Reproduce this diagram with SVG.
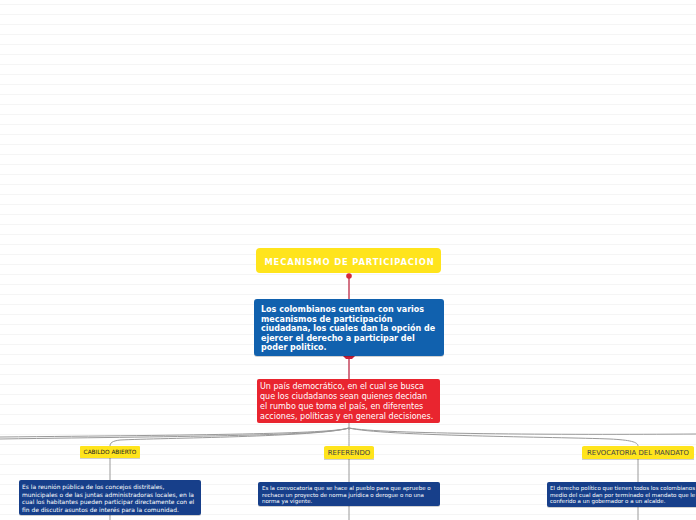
<svg xmlns="http://www.w3.org/2000/svg" width="696" height="520" viewBox="0 0 696 520">
<defs>
<pattern id="bg" x="0" y="0" width="696" height="10" patternUnits="userSpaceOnUse">
<rect x="0" y="4" width="696" height="1" fill="#f5f5f5"/>
</pattern>
</defs>
<style>
.t{font-family:"DejaVu Sans","Liberation Sans",sans-serif}
.title{font-size:8.4px;font-weight:bold;fill:#fff;letter-spacing:0.85px}
.bt{font-size:8px;font-weight:bold;fill:#fff}
.rt{font-size:8px;fill:#fff}
.lab{font-size:6.9px;fill:#444}
.ds{font-size:5.5px;fill:#fff}
.conn{fill:none;stroke:#9a9a9a;stroke-width:1}
.red{fill:none;stroke:#c4445c;stroke-width:1.5}
.yel{fill:#ffe41c}
.nav{fill:#173f8a}
.sh{fill:#000;opacity:0.18}
</style>
<rect width="696" height="520" fill="#fff"/>
<rect width="696" height="520" fill="url(#bg)"/>

<g id="connectors">
<line class="red" x1="349" y1="276" x2="349" y2="299"/>
<circle cx="349" cy="276" r="2.8" fill="#d42a3c"/>
<line class="red" x1="349" y1="358" x2="349" y2="379"/>
<path d="M343 356 L355 356 L352 359 L346 359 Z" fill="#c8203a"/>
<line class="conn" x1="349" y1="423" x2="349" y2="430"/>
<path class="conn" d="M349 428 C330 434 200 435 0 437"/>
<path class="conn" d="M349 428 C320 436 200 436 0 439"/>
<path class="conn" d="M349 428 C320 437 160 438 120 440 C112 441 110 443 110 446"/>
<path class="conn" d="M349 428 C349 436 349 440 349 446"/>
<path class="conn" d="M349 428 C380 434 560 435 696 434"/>
<path class="conn" d="M349 428 C380 436 560 437 610 439 C630 440 638 442 638 446"/>
<line class="conn" x1="110" y1="458" x2="110" y2="480"/>
<line class="conn" x1="110" y1="515" x2="110" y2="520"/>
<line class="conn" x1="349" y1="459" x2="349" y2="482"/>
<line class="conn" x1="349" y1="506" x2="349" y2="520"/>
<line class="conn" x1="638" y1="459" x2="638" y2="482"/>
<line class="conn" x1="638" y1="507" x2="638" y2="520"/>
</g>

<g id="title">
<rect x="256" y="248" width="185" height="25" rx="4" class="yel"/>
<text class="t title" x="349.5" y="265" text-anchor="middle">MECANISMO DE PARTICIPACION</text>
</g>

<g id="colombianos">
<rect x="254" y="300" width="190" height="57" rx="3" class="sh"/>
<rect x="254" y="299" width="190" height="57" rx="3" fill="#1161ae"/>
<text class="t bt" x="261" y="312">Los colombianos cuentan con varios</text>
<text class="t bt" x="261" y="321.5">mecanismos de participación</text>
<text class="t bt" x="261" y="331">ciudadana, los cuales dan la opción de</text>
<text class="t bt" x="261" y="340.5">ejercer el derecho a participar del</text>
<text class="t bt" x="261" y="350">poder politico.</text>
</g>

<g id="pais">
<rect x="257" y="379" width="183" height="44" rx="2" fill="#e9252f"/>
<text class="t rt" x="260" y="389">Un país democrático, en el cual se busca</text>
<text class="t rt" x="260" y="399">que los ciudadanos sean quienes decidan</text>
<text class="t rt" x="260" y="409">el rumbo que toma el país, en diferentes</text>
<text class="t rt" x="260" y="419">acciones, políticas y en general decisiones.</text>
</g>

<g id="cabildo">
<rect x="80" y="447" width="60" height="12" class="sh"/>
<rect x="80" y="446" width="60" height="12" rx="1" class="yel"/>
<text class="t lab" x="110" y="454.3" text-anchor="middle" style="font-size:5.8px;fill:#222">CABILDO ABIERTO</text>
</g>

<g id="cabildo-desc">
<rect x="19" y="481" width="182" height="35" rx="2" class="sh"/>
<rect x="19" y="480" width="182" height="35" rx="2" class="nav"/>
<text class="t ds" x="22" y="489" style="font-size:5.95px">Es la reunión pública de los concejos distritales,</text>
<text class="t ds" x="22" y="496.5" style="font-size:5.95px">municipales o de las juntas administradoras locales, en la</text>
<text class="t ds" x="22" y="504" style="font-size:5.95px">cual los habitantes pueden participar directamente con el</text>
<text class="t ds" x="22" y="511.5" style="font-size:5.95px">fin de discutir asuntos de interés para la comunidad.</text>
</g>

<g id="referendo">
<rect x="324" y="447" width="50" height="13" class="sh"/>
<rect x="324" y="446" width="50" height="13" rx="2" class="yel"/>
<text class="t lab" x="349" y="455.3" text-anchor="middle">REFERENDO</text>
</g>

<g id="referendo-desc">
<rect x="258" y="483" width="182" height="24" rx="2" class="sh"/>
<rect x="258" y="482" width="182" height="24" rx="2" class="nav"/>
<text class="t ds" x="262" y="490">Es la convocatoria que se hace al pueblo para que apruebe o</text>
<text class="t ds" x="262" y="496.5">rechace un proyecto de norma jurídica o derogue o no una</text>
<text class="t ds" x="262" y="503">norma ya vigente.</text>
</g>

<g id="revocatoria">
<rect x="582" y="447" width="112" height="13" class="sh"/>
<rect x="582" y="446" width="112" height="13" rx="2" class="yel"/>
<text class="t lab" x="638" y="455.3" text-anchor="middle">REVOCATORIA DEL MANDATO</text>
</g>

<g id="revocatoria-desc">
<rect x="547" y="483" width="160" height="25" rx="2" class="sh"/>
<rect x="547" y="482" width="160" height="25" rx="2" class="nav"/>
<text class="t ds" x="550" y="490">El derecho político que tienen todos los colombianos</text>
<text class="t ds" x="550" y="496.5">medio del cual dan por terminado el mandato que le</text>
<text class="t ds" x="550" y="503">conferido a un gobernador o a un alcalde.</text>
</g>
</svg>
